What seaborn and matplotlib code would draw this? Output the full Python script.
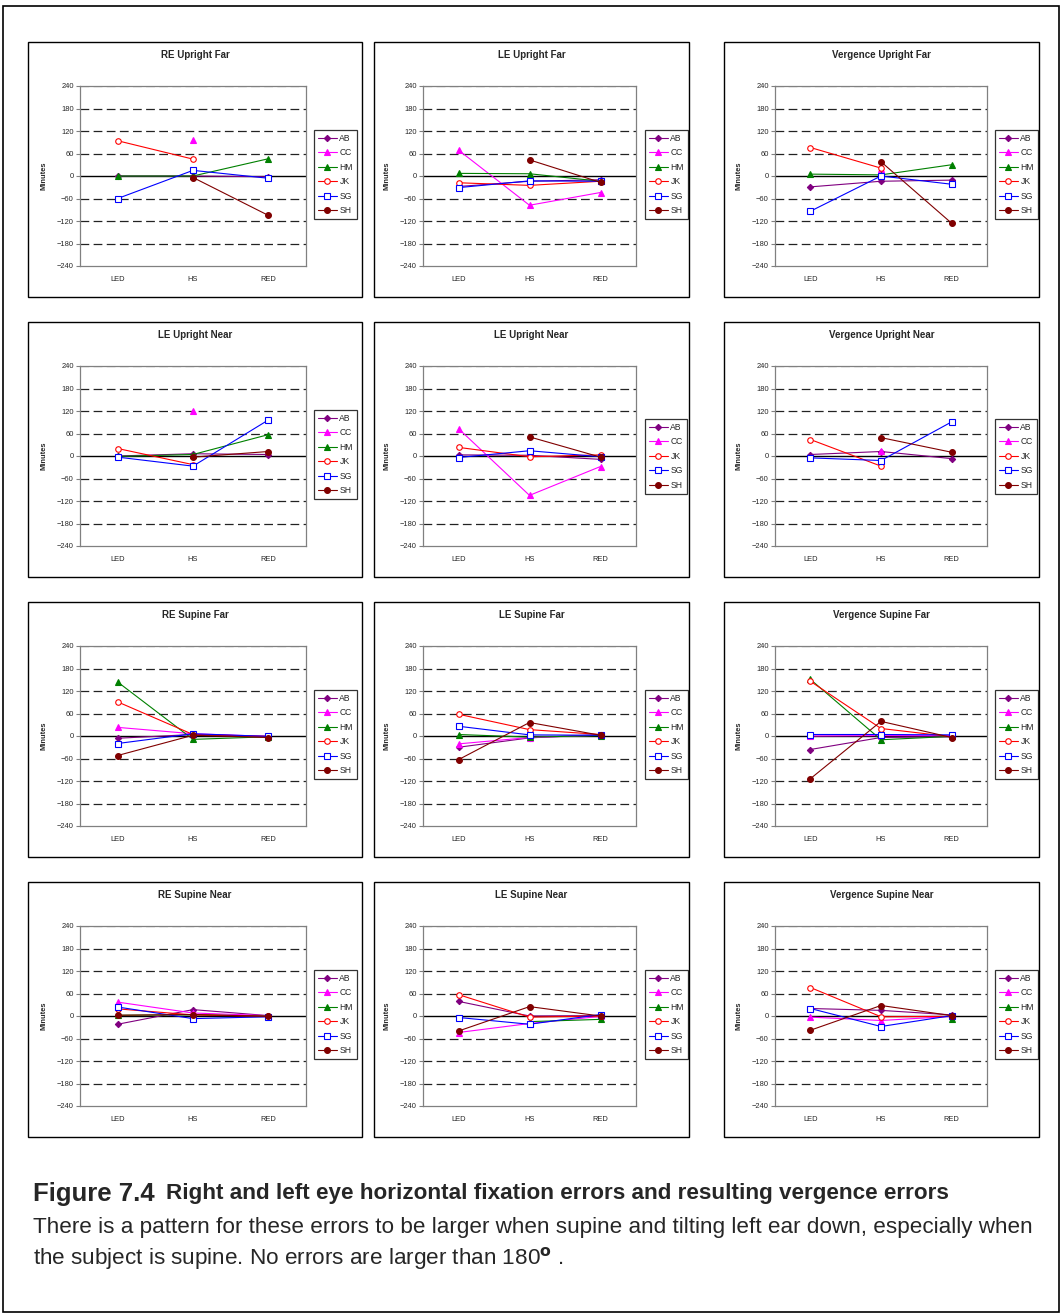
import numpy as np
import pandas as pd
import matplotlib
matplotlib.use('Agg')
import matplotlib.pyplot as plt
import seaborn as sns
from matplotlib.patches import Rectangle

sns.set_style('white')
plt.rcParams['font.family'] = ['Liberation Sans', 'DejaVu Sans']

W, H = 1061, 1314
N = np.nan

positions = ['LED', 'HS', 'RED']
subjects = ['AB', 'CC', 'HM', 'JK', 'SG', 'SH']

# values in minutes of arc (NaN = no point)
re_upright_far = {'AB': [0, 0, -2], 'CC': [N, 95, N], 'HM': [0, 0, 46],
                  'JK': [94, 45, N], 'SG': [-60, 15, -6], 'SH': [N, -4, -105]}
le_upright_far = {'AB': [-28, -14, -10], 'CC': [69, -78, -44], 'HM': [7, 6, -14],
                  'JK': [-18, -25, -14], 'SG': [-31, -13, -14], 'SH': [N, 43, -17]}
verg_upright_far = {'AB': [-29, -14, -11], 'CC': [N, 19, N], 'HM': [5, 3, 30],
                    'JK': [76, 21, N], 'SG': [-94, 0, -22], 'SH': [N, 38, -126]}
re_upright_near = {'AB': [0, 6, 4], 'CC': [N, 120, N], 'HM': [-1, 4, 57],
                   'JK': [20, -23, N], 'SG': [-3, -27, 96], 'SH': [N, -3, 12]}
le_upright_near = {'AB': [3, 2, -9], 'CC': [73, -105, -28], 'JK': [23, -2, 3],
                   'SG': [-4, 14, -2], 'SH': [N, 51, -3]}
verg_upright_near = {'AB': [4, 12, -7], 'CC': [N, 14, N], 'JK': [44, -27, N],
                     'SG': [-5, -12, 91], 'SH': [N, 49, 10]}
re_supine_far = {'AB': [-6, 4, -3], 'CC': [23, 6, -1], 'HM': [144, -9, -2],
                 'JK': [91, 4, -1], 'SG': [-20, 6, -1], 'SH': [-52, 2, -4]}
le_supine_far = {'AB': [-30, -5, 4], 'CC': [-21, -4, 2], 'HM': [4, -3, 1],
                 'JK': [58, 17, 4], 'SG': [26, 3, 2], 'SH': [-63, 36, 2]}
verg_supine_far = {'AB': [-36, -4, -2], 'CC': [0, 1, 1], 'HM': [151, -10, -1],
                   'JK': [146, 20, -2], 'SG': [4, 4, 3], 'SH': [-114, 39, -4]}
re_supine_near = {'AB': [-22, 17, 1], 'CC': [37, 8, 1], 'HM': [2, 3, 0],
                  'JK': [19, 3, -1], 'SG': [24, -7, -2], 'SH': [2, 4, -1]}
le_supine_near = {'AB': [39, 0, 1], 'CC': [-44, -20, -1], 'HM': [N, -15, -9],
                  'JK': [57, -3, 0], 'SG': [-4, -22, 4], 'SH': [-40, 25, 0]}
verg_supine_near = {'AB': [20, 15, 3], 'CC': [-3, -12, -1], 'HM': [N, N, -8],
                    'JK': [76, -2, -1], 'SG': [20, -28, 1], 'SH': [-38, 28, 1]}

titles = ['RE Upright Far', 'LE Upright Far', 'Vergence Upright Far',
          'LE Upright Near', 'LE Upright Near', 'Vergence Upright Near',
          'RE Supine Far', 'LE Supine Far', 'Vergence Supine Far',
          'RE Supine Near', 'LE Supine Near', 'Vergence Supine Near']
panels = [re_upright_far, le_upright_far, verg_upright_far,
          re_upright_near, le_upright_near, verg_upright_near,
          re_supine_far, le_supine_far, verg_supine_far,
          re_supine_near, le_supine_near, verg_supine_near]

styles = {
    'AB': dict(color='#800080', marker='D', ms=3.2, mfc='#800080'),
    'CC': dict(color='#FF00FF', marker='^', ms=4.2, mfc='#FF00FF'),
    'HM': dict(color='#008000', marker='^', ms=4.2, mfc='#008000'),
    'JK': dict(color='#FF0000', marker='o', ms=4.0, mfc='white'),
    'SG': dict(color='#0000FF', marker='s', ms=4.0, mfc='white'),
    'SH': dict(color='#800000', marker='o', ms=4.2, mfc='#800000'),
}

# pixel layout
frame_x = [(28, 362), (374, 689), (724, 1039)]
plot_x = [(80, 306), (423, 636), (775, 987)]
legend_x = [314, 645, 995]
row_top = [42, 322, 602, 882]

fig = plt.figure(figsize=(W / 100, H / 100), dpi=100)


def fx(px):
    return px / W


def fy(py):
    return 1 - py / H


# outer border
fig.patches.append(Rectangle((fx(3), fy(1312)), fx(1056), 1306 / H, transform=fig.transFigure,
                             fill=False, edgecolor='black', lw=1.2))

for i, (title, data) in enumerate(zip(titles, panels)):
    r, c = divmod(i, 3)
    top = row_top[r]
    x0, x1 = plot_x[c]
    y0, y1 = top + 44, top + 224
    ax = fig.add_axes([fx(x0), fy(y1), fx(x1 - x0), (y1 - y0) / H])

    # chart frame
    fa, fb = frame_x[c]
    fig.patches.append(Rectangle((fx(fa), fy(top + 255)), fx(fb - fa), 255 / H,
                                 transform=fig.transFigure, fill=False,
                                 edgecolor='black', lw=1))
    fig.text(fx((fa + fb) / 2), fy(top + 13), title, ha='center', va='center',
             fontsize=7, fontweight='bold')

    for yv in [-180, -120, -60, 60, 120, 180]:
        ax.axhline(yv, color='#222222', lw=0.9, dashes=(7, 3.5), zorder=1)
    ax.axhline(240, color='#888888', lw=0.9, dashes=(7, 3.5), zorder=1)
    ax.axhline(0, color='black', lw=1.0, zorder=2)

    handles = []
    for s in subjects:
        if s not in data:
            continue
        df = pd.DataFrame({'pos': [0, 1, 2], 'val': data[s]}).dropna()
        st = styles[s]
        sns.lineplot(data=df, x='pos', y='val', ax=ax, estimator=None, sort=False,
                     color=st['color'], marker=st['marker'], markersize=st['ms'],
                     mfc=st['mfc'], mec=st['color'], mew=0.8, lw=0.8,
                     label=s, zorder=3)
        handles.append(ax.get_lines()[-1])

    ax.set_xlim(-0.5, 2.5)
    ax.set_ylim(-240, 240)
    ax.set_yticks(range(-240, 241, 60))
    ax.set_xticks([0, 1, 2])
    ax.set_xticklabels(positions)
    ax.tick_params(axis='x', length=0, labelsize=5.4, pad=7)
    ax.tick_params(axis='y', length=3, width=0.8, color='#808080', labelsize=5.4, pad=1.5,
                   left=True)
    ax.set_xlabel('')
    ax.set_ylabel('Minutes', fontsize=5.4, fontweight='bold', labelpad=7)
    for sp in ax.spines.values():
        sp.set_color('#808080')
        sp.set_linewidth(0.9)

    n = len(handles)
    ly = top + (88 if n == 6 else 97)
    leg = ax.legend(handles=handles, labels=[h.get_label() for h in handles],
                    loc='upper left', bbox_to_anchor=(fx(legend_x[c]), fy(ly)),
                    bbox_transform=fig.transFigure, fontsize=6.2, frameon=True,
                    fancybox=False, edgecolor='black', handlelength=2.2,
                    handletextpad=0.3, labelspacing=0.64, borderpad=0.45,
                    borderaxespad=0)
    leg.get_frame().set_linewidth(0.9)

fig.text(fx(33), fy(1194), 'Figure 7.4', fontsize=18.5, fontweight='bold',
         ha='left', va='center')
fig.text(fx(166), fy(1194),
         'Right and left eye horizontal fixation errors and resulting vergence errors',
         fontsize=16.2, fontweight='bold', ha='left', va='center')
fig.text(fx(33), fy(1227),
         'There is a pattern for these errors to be larger when supine and tilting left ear down, especially when',
         fontsize=16.2, ha='left', va='center')
fig.text(fx(33), fy(1258), 'the subject is supine. No errors are larger than 180$\\mathbf{^o}$ .',
         fontsize=16.2, ha='left', va='center')

plt.savefig('out.png', dpi=100)
